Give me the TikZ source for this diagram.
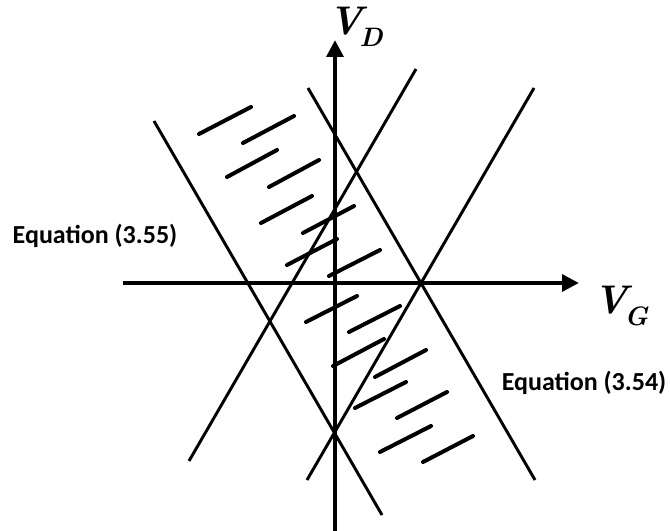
\documentclass[tikz,border=0pt]{standalone}
\usepackage{fontspec}
\newfontfamily\calib{Carlito}
\usetikzlibrary{arrows.meta}
\newcommand\vsubx[2]{\textbf{\textit{#1}}\kern-6pt\raisebox{-0.3em}{\fontsize{20}{24}\selectfont\textbf{\textit{#2}}}}
\begin{document}
\begin{tikzpicture}[x=0.75pt,y=-0.75pt,
  axis/.style={line width=3.4pt,-{Triangle[length=12.75pt,width=12.5pt]}},
  bound/.style={line width=2.2pt},
  hatch/.style={line width=3pt,line cap=round},
  eqlabel/.style={font=\calib\bfseries\fontsize{19.5}{22}\selectfont,inner sep=0pt},
  axlabel/.style={font=\fontsize{30}{34}\selectfont,inner sep=0pt,anchor=base west}]
\useasboundingbox (0,0) rectangle (670,531);
% axes
\coordinate (xs) at (123,283);
\coordinate (xe) at (579,283);
\coordinate (ys) at (335,531);
\coordinate (ye) at (335,40);
\draw[axis] (xs) -- (xe);
\draw[axis] (ys) -- (ye);
\node[axlabel] (vg) at (593,313) {\vsubx{V}{G}};
\node[axlabel] (vd) at (328,35) {\vsubx{V}{D}};
% boundary lines
\coordinate (l1a) at (154,121); \coordinate (l1b) at (382,515);
\coordinate (l2a) at (308,88);  \coordinate (l2b) at (535,480);
\coordinate (l3a) at (416,69);  \coordinate (l3b) at (189,461);
\coordinate (l4a) at (534,88);  \coordinate (l4b) at (307,480);
\draw[bound] (l1a) -- (l1b);
\draw[bound] (l2a) -- (l2b);
\draw[bound] (l3a) -- (l3b);
\draw[bound] (l4a) -- (l4b);
% hatching
\foreach \ax/\ay/\bx/\by in {199/134/251/107, 243/143/294/116, 227/177/277/150,
  269/187/319/160, 261/223/312/196, 303/233/354/206, 287/265/337/239,
  329/276/380/250, 306/322/357/296, 349/332/400/306, 333/366/384/339,
  375/377/426/350, 355/408/406/382, 397/418/447/392, 380/452/431/426,
  423/462/473/436}
  \draw[hatch] (\ax,\ay) -- (\bx,\by);
% labels
\node[eqlabel] (eq55) at (95,236) {Equation (3.55)};
\node[eqlabel] (eq54) at (584,383) {Equation (3.54)};
\end{tikzpicture}
\end{document}
